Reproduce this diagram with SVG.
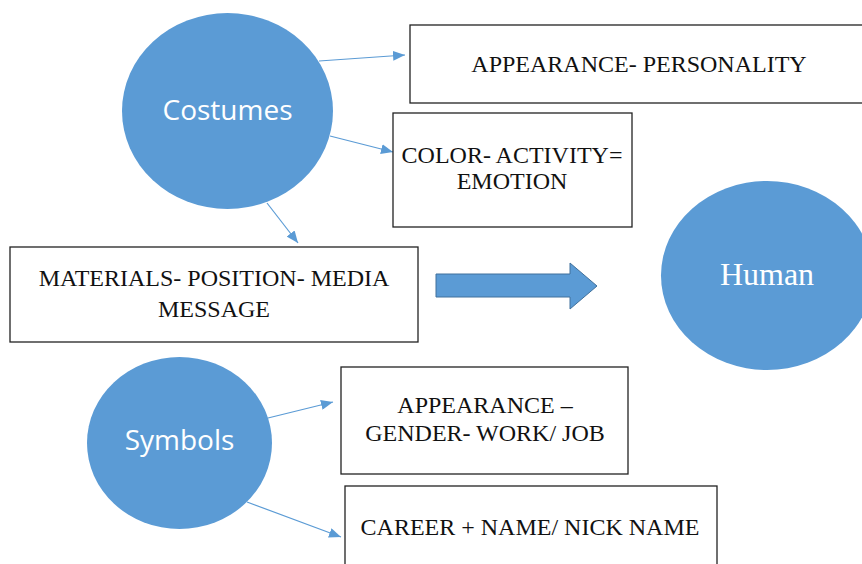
<svg xmlns="http://www.w3.org/2000/svg" width="862" height="564" viewBox="0 0 862 564">
<defs>
<style>
.circ{fill:#5b9bd5;}
.box{fill:#fff;stroke:#222;stroke-width:1.3;}
.bt{font-family:"Liberation Serif","Times New Roman",serif;font-size:24px;fill:#111;text-anchor:middle;}
.ct{font-family:"Open Sans","Liberation Sans",sans-serif;font-size:28px;fill:#fff;text-anchor:middle;}
.ht{font-family:"Liberation Serif","Times New Roman",serif;font-size:32px;fill:#fff;text-anchor:middle;}
.con{stroke:#5b9bd5;stroke-width:1.2;fill:none;marker-end:url(#ah);}
</style>
<marker id="ah" viewBox="0 0 12 10" refX="12" refY="5" markerWidth="12" markerHeight="10" markerUnits="userSpaceOnUse" orient="auto">
<path d="M0,0 L12,5 L0,10 z" fill="#5b9bd5"/>
</marker>
</defs>
<rect width="862" height="564" fill="#fff"/>
<g id="connectors">
<line class="con" x1="319" y1="61" x2="405" y2="55"/>
<line class="con" x1="330" y1="136" x2="393" y2="152"/>
<line class="con" x1="267" y1="203" x2="298" y2="243"/>
<line class="con" x1="268" y1="418" x2="333" y2="402"/>
<line class="con" x1="247" y1="502" x2="341" y2="537"/>
<path id="bigarrow" d="M436,274 L570,274 L570,263 L597,286 L570,309 L570,297 L436,297 Z" fill="#5b9bd5" stroke="#41719c" stroke-width="1"/>
</g>
<g id="costumes">
<ellipse class="circ" cx="227.5" cy="111" rx="105.5" ry="98"/>
<text class="ct" x="227.5" y="120">Costumes</text>
</g>
<g id="human">
<ellipse class="circ" cx="767" cy="275.5" rx="106" ry="94.5"/>
<text class="ht" x="767" y="285">Human</text>
</g>
<g id="symbols">
<ellipse class="circ" cx="179.5" cy="443" rx="92.5" ry="86"/>
<text class="ct" x="179.5" y="450">Symbols</text>
</g>
<g id="box1">
<rect class="box" x="410" y="25" width="460" height="78"/>
<text class="bt" x="639" y="72">APPEARANCE- PERSONALITY</text>
</g>
<g id="box2">
<rect class="box" x="393" y="113" width="239" height="114"/>
<text class="bt" x="512" y="163">COLOR- ACTIVITY=</text>
<text class="bt" x="512" y="189">EMOTION</text>
</g>
<g id="box3">
<rect class="box" x="10" y="247" width="408" height="95"/>
<text class="bt" x="214" y="286">MATERIALS- POSITION- MEDIA</text>
<text class="bt" x="214" y="317">MESSAGE</text>
</g>
<g id="box4">
<rect class="box" x="341" y="367" width="287" height="107"/>
<text class="bt" x="485" y="413">APPEARANCE –</text>
<text class="bt" x="485" y="441">GENDER- WORK/ JOB</text>
</g>
<g id="box5">
<rect class="box" x="345" y="486" width="372" height="90"/>
<text class="bt" x="530" y="535">CAREER + NAME/ NICK NAME</text>
</g>
</svg>
